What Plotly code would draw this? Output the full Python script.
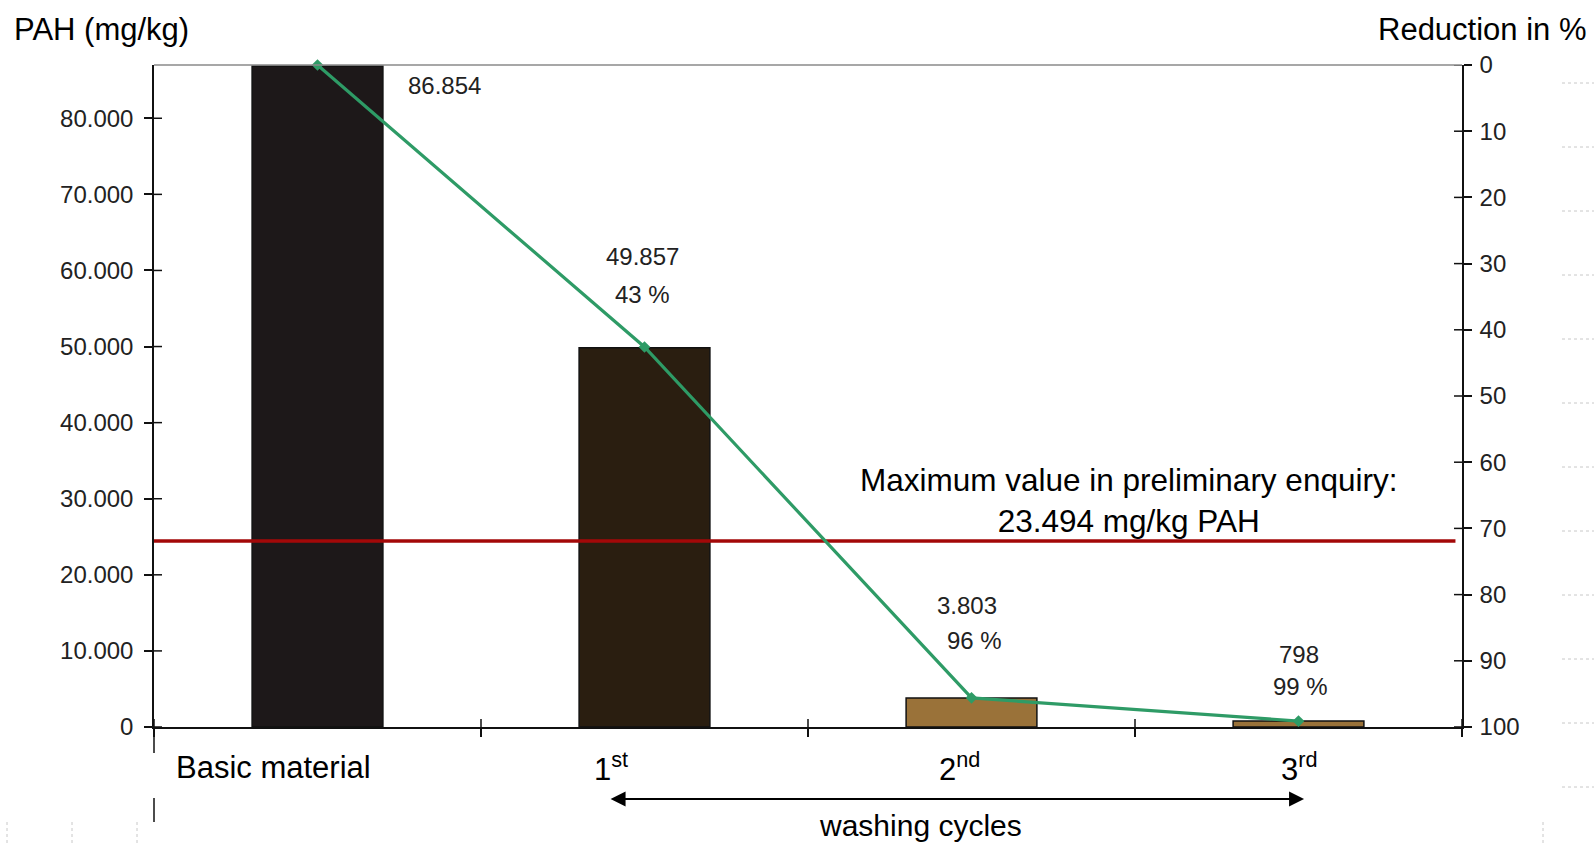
import plotly.graph_objects as go

# ---- data ----
categories = ["Basic material", "1st", "2nd", "3rd"]
cat_labels = ["Basic material", "1<sup>st</sup>", "2<sup>nd</sup>", "3<sup>rd</sup>"]
pah_values = [86854, 49857, 3803, 798]
value_labels = ["86.854", "49.857", "3.803", "798"]
reduction_pct = [0.0, 42.6, 95.6, 99.1]
pct_labels = ["", "43 %", "96 %", "99 %"]
bar_colors = ["#1d1819", "#2a1e10", "#9a7239", "#9a7239"]
limit_value = 24450
limit_text = "Maximum value in preliminary enquiry:<br>23.494 mg/kg PAH"
left_ticks = [0, 10000, 20000, 30000, 40000, 50000, 60000, 70000, 80000]
right_ticks = [0, 10, 20, 30, 40, 50, 60, 70, 80, 90, 100]
x_bounds = [-0.5, 0.5, 1.5, 2.5, 3.5]

FONT = "Liberation Sans, Arial, sans-serif"
x_idx = list(range(len(categories)))

fig = go.Figure()
fig.add_trace(go.Bar(
    x=x_idx, y=pah_values, width=0.40,
    marker=dict(color=bar_colors, line=dict(color="#111111", width=1.5)),
    yaxis="y", hoverinfo="skip", showlegend=False,
))
fig.add_trace(go.Scatter(
    x=x_idx, y=reduction_pct, yaxis="y2", mode="lines+markers",
    line=dict(color="#2e9b66", width=3.2),
    marker=dict(symbol="diamond", size=9, color="#2e9b66"),
    showlegend=False, hoverinfo="skip", cliponaxis=False,
))
# limit line
fig.add_trace(go.Scatter(
    x=[-0.5, 3.48], y=[limit_value, limit_value], yaxis="y", mode="lines",
    line=dict(color="#a30808", width=3.5), showlegend=False, hoverinfo="skip",
))

shapes = []
# crossing tick marks (inside halves)
for v in left_ticks:
    shapes.append(dict(type="line", xref="paper", xsizemode="pixel", xanchor=0,
                       x0=0, x1=8, yref="y", y0=v, y1=v,
                       line=dict(color="#111111", width=1.5)))
for v in right_ticks:
    shapes.append(dict(type="line", xref="paper", xsizemode="pixel", xanchor=1,
                       x0=-8, x1=0, yref="y2", y0=v, y1=v,
                       line=dict(color="#111111", width=1.5)))
for v in x_bounds:
    shapes.append(dict(type="line", xref="x", x0=v, x1=v, yref="paper",
                       ysizemode="pixel", yanchor=0, y0=-8, y1=8,
                       line=dict(color="#111111", width=1.5)))
# left axis extension below the plot
shapes.append(dict(type="line", xref="paper", x0=0, x1=0, yref="paper",
                   ysizemode="pixel", yanchor=0, y0=0, y1=-95,
                   line=dict(color="#111111", width=1.5)))
# white box covering part of it
shapes.append(dict(type="rect", xref="paper", xsizemode="pixel", xanchor=0,
                   x0=-151, x1=2, yref="paper", ysizemode="pixel", yanchor=0,
                   y0=-26, y1=-71, fillcolor="white", line=dict(width=0), layer="above"))
# faint dotted remnants at the right edge
for k in range(12):
    shapes.append(dict(type="line", xref="paper", xsizemode="pixel", xanchor=1,
                       x0=100, x1=132, yref="paper", ysizemode="pixel", yanchor=1,
                       y0=-18 - 64 * k, y1=-18 - 64 * k,
                       line=dict(color="#c8c8c8", width=1, dash="dot")))
for px in [-147, -82, -17]:
    shapes.append(dict(type="line", xref="paper", xsizemode="pixel", xanchor=0,
                       x0=px, x1=px, yref="paper", ysizemode="pixel", yanchor=0,
                       y0=-95, y1=-116, line=dict(color="#c8c8c8", width=1, dash="dot")))
shapes.append(dict(type="line", xref="paper", xsizemode="pixel", xanchor=1,
                   x0=81, x1=81, yref="paper", ysizemode="pixel", yanchor=0,
                   y0=-95, y1=-116, line=dict(color="#c8c8c8", width=1, dash="dot")))
# top border
shapes.append(dict(type="line", xref="paper", x0=0, x1=1, yref="paper", y0=1, y1=1,
                   line=dict(color="#8a8a8a", width=1.5)))

ann = []
num_font = dict(family=FONT, size=24, color="#222222")
big_font = dict(family=FONT, size=31, color="#000000")
val_shift = [(127, -20), (-2, 91), (-5, 92), (0, 67)]
pct_shift = [(0, 0), (-2, 53), (3, 57), (2, 35)]
for i in x_idx:
    dx, dy = val_shift[i]
    ann.append(dict(x=i, y=reduction_pct[i], xref="x", yref="y2", text=value_labels[i],
                    showarrow=False, xshift=dx, yshift=dy, font=num_font))
    if pct_labels[i]:
        dx, dy = pct_shift[i]
        ann.append(dict(x=i, y=reduction_pct[i], xref="x", yref="y2", text=pct_labels[i],
                        showarrow=False, xshift=dx, yshift=dy, font=num_font))
# category labels
cat_shift = [-44, -34, -12, 1]
for i in x_idx:
    ann.append(dict(x=i, y=0, xref="x", yref="paper", text=cat_labels[i], showarrow=False,
                    xshift=cat_shift[i], yshift=-40, yanchor="middle", font=big_font))
# axis titles
ann.append(dict(x=0, y=1, xref="paper", yref="paper", xanchor="left", yanchor="middle",
                text="PAH (mg/kg)", showarrow=False, xshift=-142, yshift=36, font=big_font))
ann.append(dict(x=1, y=1, xref="paper", yref="paper", xanchor="right", yanchor="middle",
                text="Reduction in %", showarrow=False, xshift=127, yshift=36, font=big_font))
# limit text
ann.append(dict(x=2.48, y=limit_value, xref="x", yref="y", text=limit_text, showarrow=False,
                yanchor="bottom", yshift=0, font=dict(family=FONT, size=31.5, color="#000000")))
# washing cycles arrow
ann.append(dict(x=3.017, y=0, xref="x", yref="paper", ax=-695, ay=0, axref="pixel",
                ayref="pixel", yshift=-72, text="", showarrow=True, arrowhead=2,
                arrowside="end+start", arrowsize=1.5, arrowwidth=2, arrowcolor="#000000"))
ann.append(dict(x=1.845, y=0, xref="x", yref="paper", text="washing cycles", showarrow=False,
                yshift=-98, yanchor="middle", font=dict(family=FONT, size=30, color="#000000")))

fig.update_layout(
    width=1594, height=843,
    margin=dict(l=154, r=132, t=65, b=116),
    paper_bgcolor="white", plot_bgcolor="white",
    separators=",.",
    showlegend=False,
    xaxis=dict(range=[-0.5, 3.5], showgrid=False, zeroline=False, showticklabels=False,
               tickvals=x_bounds, ticks="outside", ticklen=8, tickwidth=1.5,
               tickcolor="#111111", showline=True, linecolor="#111111", linewidth=1.5),
    yaxis=dict(range=[0, 87000], tickvals=left_ticks, tickformat=",d", showgrid=False,
               zeroline=False, ticks="outside", ticklen=8, tickwidth=1.5, tickcolor="#111111",
               showline=True, linecolor="#111111", linewidth=1.5,
               tickfont=num_font, ticklabelstandoff=6),
    yaxis2=dict(range=[100, 0], tickvals=right_ticks, overlaying="y", side="right",
                showgrid=False, zeroline=False, ticks="outside", ticklen=8, tickwidth=1.5,
                tickcolor="#111111", showline=True, linecolor="#111111", linewidth=1.5,
                tickfont=num_font, ticklabelstandoff=3),
    shapes=shapes,
    annotations=ann,
)

fig.write_html("out.html")
